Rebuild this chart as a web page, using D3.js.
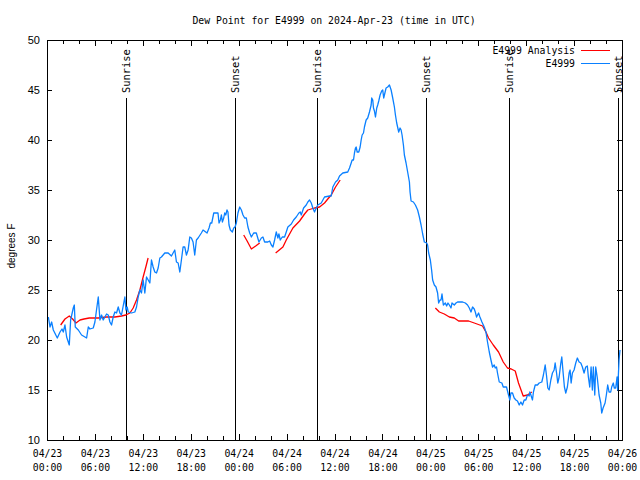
<!DOCTYPE html>
<html><head><meta charset="utf-8">
<script src="https://cdn.jsdelivr.net/npm/d3@7"></script>
<style>
body{margin:0;background:#fff}
svg{display:block}
text{font-family:"DejaVu Sans Mono",monospace;font-size:9.8px;fill:#000}
</style>
</head><body>
<svg id="chart" width="640" height="480"></svg>
<script>
// ---------- DATA ----------
const startUTC = Date.UTC(2024, 3, 23, 0, 0);
const titleText = "Dew Point for E4999 on 2024-Apr-23 (time in UTC)";
const yLabelText = "degrees F";
const seriesNames = ["E4999 Analysis", "E4999"];

// observed station series (hours since 04/23 00:00 UTC, deg F)
const stationHours = [
 0.17,0.375,0.58,0.79,1.29,1.63,1.88,2.04,2.25,2.46,2.79,2.96,3.29,3.42,3.54,3.92,4.33,4.75,4.96,5.17,
 5.38,5.79,6.0,6.2,6.42,6.63,6.83,7.04,7.25,7.46,7.67,7.88,8.08,8.29,8.5,8.71,8.92,9.13,9.33,9.75,
 9.88,10.04,10.17,10.58,11.0,11.21,11.42,11.63,11.83,12.04,12.25,12.46,12.67,12.88,13.08,13.29,13.5,13.71,13.92,14.13,
 14.33,14.54,14.75,15.17,15.58,15.79,16.0,16.21,16.42,16.63,16.83,17.04,17.25,17.46,17.67,17.88,18.08,18.29,18.5,18.71,
 18.92,19.33,19.54,20.04,20.29,20.46,20.63,20.88,21.41,21.54,21.71,21.84,21.96,22.13,22.25,22.38,22.54,22.66,22.79,22.96,
 23.21,23.38,23.54,23.71,23.91,24.13,24.34,24.54,24.75,24.96,25.16,25.38,25.59,25.88,26.21,26.54,26.84,27.04,27.25,27.66,
 27.88,28.09,28.29,28.5,28.71,28.91,29.04,29.21,29.46,29.75,29.96,30.16,30.59,30.88,31.21,31.54,31.71,31.84,32.13,32.46,
 32.66,32.88,33.09,33.29,33.5,33.71,33.91,34.34,34.75,35.38,35.59,35.79,36.13,36.41,36.63,37.04,37.66,37.88,38.09,38.21,
 38.38,38.5,38.63,38.71,38.84,39.04,39.21,39.34,39.46,39.63,39.75,39.96,40.16,40.38,40.59,40.66,40.79,40.88,41.0,41.13,
 41.29,41.41,41.54,41.71,41.91,42.04,42.16,42.34,42.46,42.66,42.88,43.09,43.29,43.5,43.63,43.79,44.04,44.21,44.34,44.46,
 44.63,44.75,44.96,45.16,45.38,45.46,45.59,45.88,46.13,46.41,46.63,46.84,47.04,47.25,47.54,47.66,47.79,48.0,48.16,48.29,
 48.5,48.71,48.91,49.04,49.21,49.34,49.46,49.63,49.88,50.04,50.21,50.38,50.59,50.71,51.0,51.21,51.41,52.04,52.38,52.66,
 52.88,53.09,53.29,53.5,53.63,53.79,54.04,54.21,54.46,54.75,54.96,55.16,55.38,55.59,55.79,56.0,56.13,56.29,56.41,56.63,
 56.96,57.13,57.54,57.79,57.96,58.09,58.29,58.5,58.71,58.91,59.13,59.34,59.54,59.75,59.96,60.16,60.38,60.46,60.59,60.79,
 60.91,61.13,61.41,61.63,61.96,62.16,62.38,62.54,62.71,62.88,63.09,63.29,63.5,63.63,63.79,63.96,64.13,64.34,64.46,64.63,
 64.79,64.96,65.16,65.38,65.5,65.63,65.79,66.0,66.21,66.41,66.63,66.84,67.04,67.25,67.46,67.66,67.79,67.96,68.13,68.29,
 68.41,68.59,68.71,68.91,69.13,69.34,69.46,69.63,69.88,70.04,70.21,70.38,70.59,70.71,70.91,71.04,71.21,71.38,71.46,71.63,
 71.75
];
const stationValues = [
 22.3,21.3,21.8,21.0,20.2,20.8,21.1,20.8,21.5,20.3,19.5,22.0,23.2,23.5,21.3,21.0,20.5,20.3,20.2,21.3,
 21.1,21.2,21.8,23.0,24.3,22.0,22.5,22.0,22.3,22.6,22.5,21.8,21.5,22.3,22.8,22.7,23.3,22.7,22.5,24.3,
 23.0,23.3,22.8,22.7,22.8,23.3,24.3,25.0,24.7,26.0,24.7,26.3,26.0,25.7,28.0,27.3,26.8,26.7,27.2,28.2,
 28.3,28.5,28.7,28.7,28.4,28.7,29.0,27.8,27.7,26.8,28.0,29.3,29.3,28.5,29.0,30.3,30.2,29.8,28.5,30.0,
 30.2,30.7,31.0,30.7,31.2,31.7,31.7,32.7,32.7,31.7,32.0,32.5,31.8,32.2,32.7,32.5,33.0,32.8,31.5,31.0,
 30.8,31.2,31.3,31.7,32.7,33.3,33.0,32.5,32.2,32.2,31.3,30.7,30.3,30.7,30.7,29.8,30.2,30.3,29.8,29.8,
 29.9,29.5,29.3,30.0,30.8,30.2,30.6,30.0,30.3,30.3,30.8,31.3,31.6,32.0,32.3,32.7,32.8,32.5,33.2,33.5,
 33.8,34.0,33.7,33.2,32.8,33.2,33.5,33.7,34.3,34.4,34.4,35.3,35.8,36.0,36.4,36.7,36.8,37.2,37.7,38.0,
 38.0,38.7,39.2,39.3,38.8,38.8,39.3,40.0,40.5,40.7,41.3,42.0,42.2,42.8,43.5,44.2,44.0,43.2,42.9,42.3,
 43.2,43.5,43.9,44.5,44.9,45.0,44.2,44.8,45.2,45.3,45.5,45.0,44.2,43.3,42.5,41.7,40.8,41.2,41.0,40.5,
 39.5,38.5,37.7,36.8,35.8,34.8,33.9,33.8,33.5,33.0,32.3,31.5,30.6,29.8,29.7,29.5,28.7,28.0,27.0,26.0,
 25.5,25.3,24.7,23.7,24.0,24.0,24.6,23.5,23.7,23.4,23.7,23.5,23.2,23.7,23.5,23.7,23.8,23.8,23.7,23.5,
 23.2,22.8,23.3,23.1,22.8,22.3,22.7,22.3,21.8,21.3,20.8,19.8,18.8,18.0,17.3,17.5,17.2,17.3,16.7,15.8,
 15.7,15.3,15.3,14.5,14.0,14.7,14.7,14.2,14.0,13.9,13.5,13.8,13.5,14.0,14.0,14.5,14.4,14.8,14.5,14.0,
 14.8,15.5,15.5,15.7,15.8,16.5,17.5,16.5,15.2,15.0,16.0,16.7,17.0,17.7,16.8,15.7,16.3,17.7,18.3,16.7,
 15.3,14.7,15.3,16.7,17.0,15.7,16.7,17.0,17.7,18.2,17.8,17.7,17.3,16.7,17.3,17.4,16.3,15.3,17.3,15.0,
 17.3,14.5,17.3,16.2,14.5,13.7,12.7,13.2,13.7,14.5,15.5,14.8,14.8,15.3,15.7,15.2,15.2,16.3,15.0,18.0,
 19.0
];

// analysis series (null = gap)
const analysisHours = [
 1.71,2.25,2.79,3.21,3.63,4.13,4.63,5.29,6.41,7.46,8.5,9.33,9.875,10.38,10.79,11.21,11.63,12.04,12.375,12.66,
 13.0,
 24.63,25.06,25.59,26.13,26.63,
 27.0,
 28.63,29.54,29.96,30.79,31.63,32.25,32.66,33.5,34.13,34.75,35.16,35.59,36.13,36.71,
 37.0,
 48.63,49.13,49.75,50.38,51.0,51.54,52.79,53.5,54.54,54.96,55.29,55.88,56.54,57.13,57.66,58.13,58.63,59.04,59.63,60.16,60.71
];
const analysisValues = [
 21.5,22.1,22.4,22.1,21.7,22.0,22.1,22.2,22.2,22.3,22.3,22.4,22.5,22.7,23.2,24.0,25.0,26.3,27.3,28.2,
 null,
 30.5,29.9,29.1,29.4,29.7,
 null,
 28.7,29.3,30.0,31.2,31.9,32.6,33.0,33.2,33.3,33.7,34.1,34.5,35.3,36.0,
 null,
 23.2,22.8,22.6,22.3,22.2,21.9,21.9,21.7,21.4,20.8,20.2,19.5,18.8,17.8,17.2,17.1,16.9,15.7,14.4,14.5,14.8
];

const sunriseHours = [9.89, 33.85, 57.89];
const sunsetHours = [23.58, 47.46, 71.54];
const yTicks = [10, 15, 20, 25, 30, 35, 40, 45, 50];
const xMajorHours = [0, 6, 12, 18, 24, 30, 36, 42, 48, 54, 60, 66, 72];
const xMinorHours = [2, 4, 8, 10, 14, 16, 20, 22, 26, 28, 32, 34, 38, 40, 44, 46, 50, 52, 56, 58, 62, 64, 68, 70];

// ---------- DRAW ----------
const toDate = h => new Date(startUTC + h * 3600e3);
const L = 47, R = 622, T = 40, B = 440;
const svg = d3.select("#chart");
const x = d3.scaleUtc().domain([toDate(0), toDate(72)]).range([L, R]);
const y = d3.scaleLinear().domain([10, 50]).range([B, T]);

// title
svg.append("text").attr("x", 334).attr("y", 24).attr("text-anchor", "middle").text(titleText);

// y label
svg.append("text")
  .attr("transform", "translate(15,246) rotate(-90)")
  .attr("text-anchor", "middle")
  .style("font-family", "'Liberation Sans', Arial, sans-serif")
  .style("font-size", "10px")
  .text(yLabelText);

const fmtD = d3.utcFormat("%m/%d"), fmtT = d3.utcFormat("%H:%M");

// axes
const noDomain = g => g.select(".domain").remove();
svg.append("g").attr("transform", `translate(0,${B})`)
  .call(d3.axisBottom(x).tickValues(xMajorHours.map(toDate)).tickSize(-6).tickPadding(0).tickFormat(""))
  .call(noDomain)
  .call(g => {
    g.selectAll(".tick text").remove();
    g.selectAll(".tick").each(function(d) {
      const t = d3.select(this).append("text").attr("text-anchor", "middle").attr("fill", "#000");
      t.append("tspan").attr("x", 0).attr("y", 17).text(fmtD(d));
      t.append("tspan").attr("x", 0).attr("y", 31).text(fmtT(d));
    });
  });
svg.append("g").attr("transform", `translate(0,${B})`)
  .call(d3.axisBottom(x).tickValues(xMinorHours.map(toDate)).tickSize(-4).tickFormat(""))
  .call(noDomain);
svg.append("g").attr("transform", `translate(0,${T})`)
  .call(d3.axisTop(x).tickValues(xMajorHours.map(toDate)).tickSize(-6).tickFormat(""))
  .call(noDomain);
svg.append("g").attr("transform", `translate(0,${T})`)
  .call(d3.axisTop(x).tickValues(xMinorHours.map(toDate)).tickSize(-4).tickFormat(""))
  .call(noDomain);
svg.append("g").attr("transform", `translate(${L},0)`)
  .call(d3.axisLeft(y).tickValues(yTicks).tickSize(-5).tickPadding(7).tickFormat(d3.format("d")))
  .call(noDomain)
  .call(g => g.selectAll(".tick text").attr("fill", "#000").attr("dy", "0.35em")
    .style("font-family", "'Liberation Sans', Arial, sans-serif").style("font-size", "11px"));
svg.append("g").attr("transform", `translate(${R},0)`)
  .call(d3.axisRight(y).tickValues(yTicks).tickSize(-5).tickFormat(""))
  .call(noDomain);
svg.selectAll(".tick line").attr("stroke", "#000").attr("shape-rendering", "crispEdges");
svg.selectAll("g").attr("font-family", null).attr("font-size", null);

// sunrise / sunset markers
const events = sunriseHours.map(h => ({h, name: "Sunrise"}))
  .concat(sunsetHours.map(h => ({h, name: "Sunset"})));
const ev = svg.append("g");
ev.selectAll("line").data(events).join("line")
  .attr("x1", d => Math.round(x(toDate(d.h))) + 0.5).attr("x2", d => Math.round(x(toDate(d.h))) + 0.5)
  .attr("y1", 98).attr("y2", B)
  .attr("stroke", "#000").attr("stroke-width", 1).attr("shape-rendering", "crispEdges");
ev.selectAll("text").data(events).join("text")
  .attr("transform", d => `translate(${Math.round(x(toDate(d.h))) + 4},93) rotate(-90)`)
  .attr("text-anchor", "start")
  .style("font-size", "10.4px")
  .text(d => d.name);

// lines
const stationData = stationHours.map((h, i) => ({t: toDate(h), v: stationValues[i]}));
const analysisData = analysisHours.map((h, i) => ({t: toDate(h), v: analysisValues[i]}));
const line = d3.line().defined(d => d.v != null).x(d => x(d.t)).y(d => y(d.v));

svg.append("path").datum(analysisData)
  .attr("d", line).attr("fill", "none").attr("stroke", "#ff0000").attr("stroke-width", 1.3)
  .attr("stroke-linejoin", "round");
svg.append("path").datum(stationData)
  .attr("d", line).attr("fill", "none").attr("stroke", "#0a80ff").attr("stroke-width", 1.3)
  .attr("stroke-linejoin", "round");

// border
svg.append("rect").attr("x", L + 0.5).attr("y", T + 0.5).attr("width", R - L).attr("height", B - T)
  .attr("fill", "none").attr("stroke", "#000").attr("shape-rendering", "crispEdges");

// legend
const legendColors = ["#ff0000", "#0a80ff"];
const lg = svg.append("g");
seriesNames.forEach((name, i) => {
  const ly = 50 + i * 13;
  lg.append("text").attr("x", 575).attr("y", ly + 4).attr("text-anchor", "end").text(name);
  lg.append("line").attr("x1", 581).attr("x2", 610).attr("y1", ly + 0.5).attr("y2", ly + 0.5)
    .attr("stroke", legendColors[i]).attr("stroke-width", 1).attr("shape-rendering", "crispEdges");
});
</script>
</body></html>
